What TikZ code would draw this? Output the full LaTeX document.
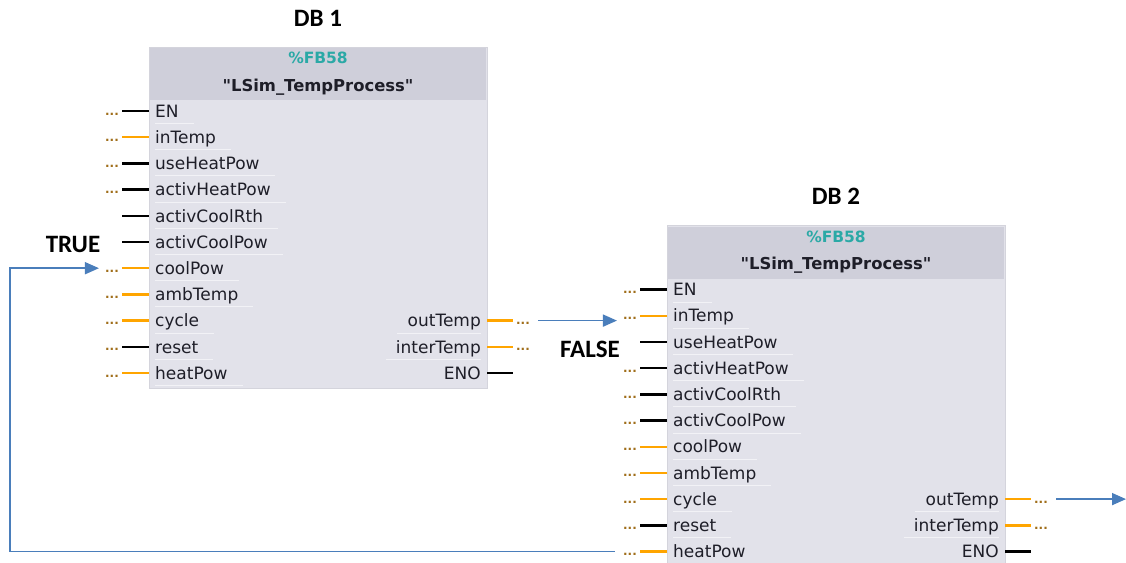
\documentclass[tikz,border=0pt]{standalone}
\usepackage{fontspec}
\setmainfont{DejaVu Sans}[Ligatures=TeXOff]
\newfontfamily\lblfont{Carlito}
\usetikzlibrary{arrows.meta}
\definecolor{boxfill}{HTML}{E2E2EA}
\definecolor{hdrfill}{HTML}{CFCFDA}
\definecolor{boxedge}{HTML}{D4D4DC}
\definecolor{teal}{HTML}{2BA9A6}
\definecolor{pinorange}{HTML}{FFA500}
\definecolor{dotcol}{HTML}{A06E1A}
\definecolor{arrowblue}{HTML}{4A7EBB}
\definecolor{txt}{HTML}{1E1E28}
\definecolor{sepcol}{HTML}{F2F2F6}
\tikzset{
  pinlbl/.style={font=\fontsize{17}{20}\selectfont, text=txt, inner sep=0pt, text height=12.4pt, text depth=0pt},
  hdrlbl/.style={font=\fontsize{16.4}{19}\selectfont\bfseries, text=txt, inner sep=0pt},
  fblbl/.style={font=\fontsize{15.5}{18}\selectfont\bfseries, text=teal, inner sep=0pt},
  biglbl/.style={font=\lblfont\fontsize{25}{28}\selectfont\bfseries, text=black, inner sep=0pt},
  dots/.style={font=\fontsize{12}{12}\selectfont\bfseries, text=dotcol, inner sep=0pt, text height=0pt, text depth=0pt},
  pinline/.style={line width=2.4pt},
  sep/.style={sepcol, line width=0.8pt},
  bluearrow/.style={arrowblue, line width=1.6pt, -{Triangle[length=14pt,width=12pt]}},
}
% #1 name, #2 left x, #3 top y, #4 db label, #5 list of label/colour/dots
\newcommand\fbblock[5]{%
  \node[biglbl] (#1-db) at (#2+169,#3-29) {#4};
  \fill[boxfill, draw=boxedge, line width=1pt] (#2,#3) rectangle (#2+338,#3+341);
  \fill[hdrfill] (#2+1,#3+1) rectangle (#2+337,#3+53);
  \node[fblbl] (#1-fb) at (#2+169,#3+11) {\%FB58};
  \node[hdrlbl] (#1-name) at (#2+169,#3+40) {"LSim\_TempProcess"};
  \foreach \lab/\col/\dt [count=\i] in {#5} {
    \pgfmathsetmacro\ry{#3+64+26.2*(\i-1)}
    \node[pinlbl, anchor=west] (#1-in\i) at (#2+6,\ry) {\lab};
    \draw[sep] ([yshift=-6pt]#1-in\i.south west) -- ([yshift=-6pt,xshift=15pt]#1-in\i.south east);
    \draw[pinline, \col] (#2-27,\ry) -- (#2,\ry);
    \ifnum\dt=1
      \node[dots] (#1-d\i) at (#2-37,\ry) {\raisebox{-4pt}{...}};
    \else
      \coordinate (#1-d\i) at (#2-37,\ry);
    \fi
  }
  \foreach \lab/\col/\dt [count=\i] in {outTemp/pinorange/1,interTemp/pinorange/1,ENO/black/0} {
    \pgfmathsetmacro\ry{#3+64+26.2*(\i+7)}
    \node[pinlbl, anchor=east] (#1-out\i) at (#2+332,\ry) {\lab};
    \ifnum\i<3
      \draw[sep] ([yshift=-6pt,xshift=-10pt]#1-out\i.south west) -- ([yshift=-6pt]#1-out\i.south east);
    \fi
    \draw[pinline, \col] (#2+338,\ry) -- (#2+364,\ry);
    \ifnum\dt=1
      \node[dots] (#1-od\i) at (#2+374,\ry) {\raisebox{-4pt}{...}};
    \else
      \coordinate (#1-od\i) at (#2+374,\ry);
    \fi
  }
}
\begin{document}
\begin{tikzpicture}[x=1pt,y=-1pt]
\useasboundingbox (0,0) rectangle (1126,562);
\fill[white] (0,0) rectangle (1126,562);
\fbblock{b1}{149}{47}{DB 1}{EN/black/1,inTemp/pinorange/1,useHeatPow/black/1,activHeatPow/black/1,activCoolRth/black/0,activCoolPow/black/0,coolPow/pinorange/1,ambTemp/pinorange/1,cycle/pinorange/1,reset/black/1,heatPow/pinorange/1}
\fbblock{b2}{667}{225.5}{DB 2}{EN/black/1,inTemp/pinorange/1,useHeatPow/black/0,activHeatPow/black/1,activCoolRth/black/1,activCoolPow/black/1,coolPow/pinorange/1,ambTemp/pinorange/1,cycle/pinorange/1,reset/black/1,heatPow/pinorange/1}
\node[biglbl] (true) at (73,244) {TRUE};
\node[biglbl] (false) at (590,349) {FALSE};
\coordinate (loopx) at (10,0);
\coordinate (outend) at (1126,0);
\draw[bluearrow] ([xshift=-8pt]b2-d11.west) -- (b2-d11 -| loopx) |- ([xshift=-6pt]b1-d7.west);
\draw[bluearrow] ([xshift=8pt]b1-od1.east) -- ([xshift=-6pt]b1-od1 -| b2-d2.west);
\draw[bluearrow] ([xshift=8pt]b2-od1.east) -- (b2-od1 -| outend);
\end{tikzpicture}
\end{document}
